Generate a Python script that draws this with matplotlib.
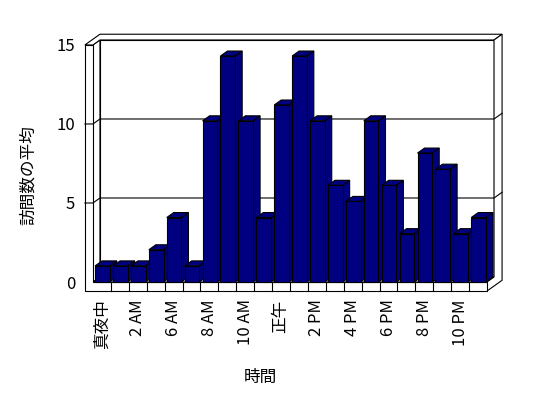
import matplotlib
matplotlib.use("Agg")
import matplotlib.pyplot as plt
from matplotlib.patches import Polygon
import numpy as np

plt.rcParams['font.family'] = ['Noto Sans CJK JP', 'DejaVu Sans']

# data
hour_labels = ["真夜中", "", "2 AM", "", "6 AM", "", "8 AM", "", "10 AM", "",
               "正午", "", "2 PM", "", "4 PM", "", "6 PM", "", "8 PM", "", "10 PM", ""]
avg_visits = [1.02, 1.02, 1.02, 2.04, 4.08, 1.02, 10.2, 14.3, 10.2, 4.08, 11.2,
              14.3, 10.2, 6.12, 5.1, 10.2, 6.12, 3.06, 8.16, 7.14, 3.06, 4.08]
y_ticks = [0, 5, 10, 15]
y_max = 15

# pseudo-3D geometry (data units): depth offset per unit depth, wall thicknesses
KX, KY = 0.391, 0.316
TX, TY, TZ = 0.45, 0.57, 1.15
n = len(avg_visits)
LW = 0.8
NAVY = "#000080"


def proj(x, y, z):
    return (x + z * KX, y + z * KY)


def face(ax, pts, fc="white", z=1):
    ax.add_patch(Polygon([proj(*p) for p in pts], closed=True, fc=fc, ec="black",
                         lw=LW, zorder=z, clip_on=False, joinstyle="miter"))


fig = plt.figure(figsize=(5.48, 3.98), dpi=100)
ax = fig.add_axes([0.1549, 0.2688, 0.7613, 0.6452])
ax.set_xlim(-TX, n + KX * (1 + TZ))
ax.set_ylim(-TY, y_max + KY * (1 + TZ))
for s in ax.spines.values():
    s.set_visible(False)

zb = 1 + TZ
# back wall, left wall inner side, floor top
face(ax, [(0, 0, 1), (n, 0, 1), (n, y_max, 1), (0, y_max, 1)])
face(ax, [(0, 0, 0), (0, 0, 1), (0, y_max, 1), (0, y_max, 0)])
face(ax, [(0, 0, 0), (n, 0, 0), (n, 0, 1), (0, 0, 1)])
# wall tops, right end faces, front L of left wall + floor
face(ax, [(-TX, y_max, 0), (0, y_max, 0), (0, y_max, 1), (n, y_max, 1),
          (n, y_max, zb), (-TX, y_max, zb)])
face(ax, [(n, -TY, 0), (n, 0, 0), (n, 0, 1), (n, y_max, 1), (n, y_max, zb), (n, -TY, zb)])
face(ax, [(-TX, -TY, 0), (n, -TY, 0), (n, 0, 0), (0, 0, 0), (0, y_max, 0), (-TX, y_max, 0)])

# gridlines
for v in y_ticks[1:-1]:
    pts = [proj(-TX, v, 0), proj(0, v, 0), proj(0, v, 1), proj(n, v, 1), proj(n, v, zb)]
    xs, ys = zip(*pts)
    ax.plot(xs, ys, color="black", lw=LW, zorder=2, clip_on=False)
# category ticks on the floor front
for i in range(1, n):
    ax.plot([i, i], [-TY, 0], color="black", lw=LW, zorder=2, clip_on=False)

# bars: front via ax.bar, side + top as polygons
idx = np.arange(n)
bars = ax.bar(idx + 0.53, avg_visits, width=0.82, color=NAVY, edgecolor="black",
              lw=LW)
for i, b in enumerate(bars):
    x0, x1, v = b.get_x(), b.get_x() + b.get_width(), b.get_height()
    b.set_zorder(11 + 2 * i)
    face(ax, [(x1, 0, 0), (x1, 0, 1), (x1, v, 1), (x1, v, 0)], fc=NAVY, z=10 + 2 * i)
    face(ax, [(x0, v, 0), (x1, v, 0), (x1, v, 1), (x0, v, 1)], fc=NAVY, z=10 + 2 * i)

ax.set_yticks(y_ticks)
ax.set_yticklabels([str(t) for t in y_ticks], fontsize=12)
ax.set_xticks(idx + 0.5)
ax.set_xticklabels(hour_labels, rotation=90, fontsize=12)
ax.tick_params(axis="y", length=0, pad=7)
ax.tick_params(axis="x", length=0, pad=6)

ax.set_ylabel("訪問数の平均", fontsize=12)
ax.yaxis.set_label_coords(-0.115, 0.452)
ax.set_xlabel("時間", fontsize=12)
ax.xaxis.set_label_coords(0.42, -0.304)

fig.savefig("out.png", dpi=100)
